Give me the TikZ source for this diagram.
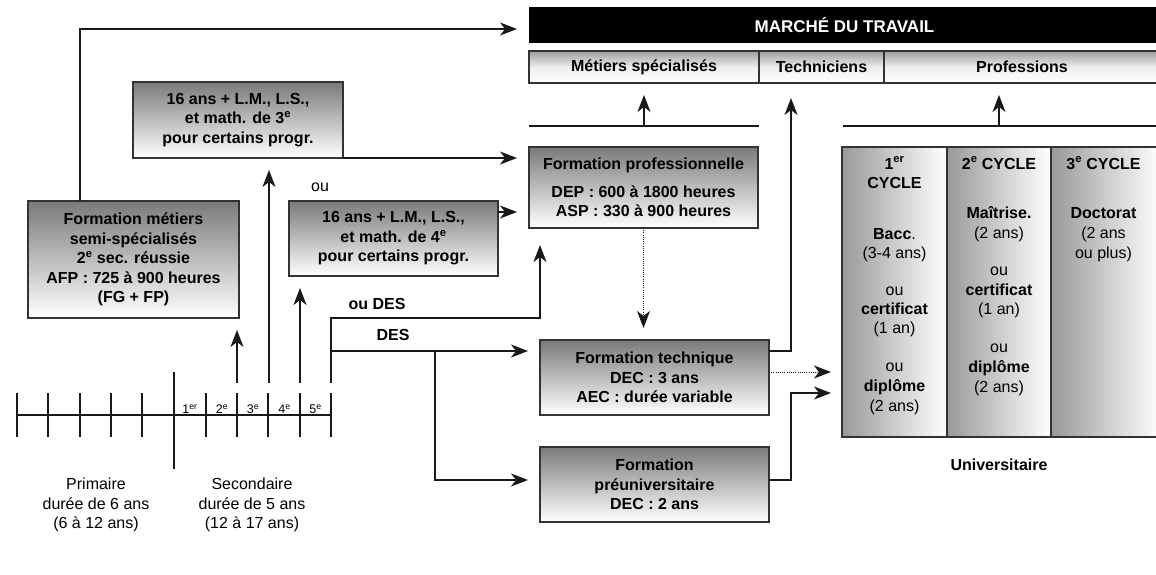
\documentclass[tikz,border=0pt]{standalone}
\usepackage{fontspec}
\setmainfont{Liberation Sans}
\usetikzlibrary{arrows.meta}
\newcommand\fsz{\fontsize{16}{19.5}\selectfont}
\newcommand\fsmall{\fontsize{12.5}{14}\selectfont}
\tikzset{
  every node/.style={inner sep=0pt, outer sep=0pt},
  ln/.style={line width=1.3pt, draw=black!90},
  arr/.style={ln, -{Stealth[length=17pt,width=13pt,inset=5pt]}},
  dotarr/.style={line width=1pt, draw=black!90, dash pattern=on 1pt off 1.2pt, -{Stealth[length=17pt,width=13pt,inset=5pt]}},
  bx/.style={rectangle, draw=black!80, line width=1.2pt, top color=black!52, bottom color=white, align=center, font=\bfseries\fsz},
  rowbox/.style={rectangle, draw=black!80, line width=1.2pt, top color=black!38, bottom color=white, middle color=white!93!black, font=\bfseries\fsz, anchor=north west, minimum height=32pt},
  ucol/.style={rectangle, draw=black!80, line width=1.2pt, left color=black!40, right color=white, anchor=north west, minimum height=290pt},
  lab/.style={font=\fsz, align=center},
  blab/.style={font=\bfseries\fsz, align=center},
  utxt/.style={font=\bfseries\fsz, anchor=base},
  tlab/.style={font=\fsmall},
}
\begin{document}
\begin{tikzpicture}[x=1pt,y=-1pt]
\fill[white] (0,0) rectangle (1156,574);
\useasboundingbox (0,0) rectangle (1156,574);

% header
\node[fill=black, anchor=north west, minimum width=631pt, minimum height=36pt, text=white, font=\bfseries\fontsize{17}{20}\selectfont] (marche) at (529,7) {MARCHÉ DU TRAVAIL};
\node[rowbox, minimum width=230pt] (metiers) at (529,51) {Métiers spécialisés};
\node[rowbox, minimum width=125pt] (techniciens) at (759,51) {Techniciens};
\node[rowbox, minimum width=276pt] (professions) at (884,51) {Professions};

% boxes
\node[bx, minimum width=210pt, minimum height=76pt] (boxA) at (238,120) {16 ans + L.M., L.S.,\\et math. de 3\textsuperscript{e}\\pour certains progr.};
\node[bx, minimum width=209pt, minimum height=75pt] (boxB) at (393.5,238.5) {16 ans + L.M., L.S.,\\et math. de 4\textsuperscript{e}\\pour certains progr.};
\node[bx, minimum width=211pt, minimum height=117pt] (boxC) at (133.5,259.5) {Formation métiers\\semi-spécialisés\\2\textsuperscript{e} sec. réussie\\AFP : 725 à 900 heures\\(FG + FP)};
\node[bx, minimum width=229pt, minimum height=81pt] (fpro) at (643.5,187.5) {Formation professionnelle\\[8pt]DEP : 600 à 1800 heures\\ASP : 330 à 900 heures};
\node[bx, minimum width=229pt, minimum height=75pt] (ftech) at (654.5,377.5) {Formation technique\\DEC : 3 ans\\AEC : durée variable};
\node[bx, minimum width=229pt, minimum height=75pt] (fpre) at (654.5,484.5) {Formation\\préuniversitaire\\DEC : 2 ans};

% university
\node[ucol, minimum width=105pt] (u1) at (842,147) {};
\node[ucol, minimum width=104pt] (u2) at (947,147) {};
\node[ucol, minimum width=110pt] (u3) at (1051,147) {};
\foreach \t/\y [count=\i] in {1\textsuperscript{er}/169, CYCLE/188.5, Bacc{\mdseries .}/239.5, {\mdseries (3-4 ans)}/258.5, {\mdseries ou}/295, certificat/314.5, {\mdseries (1 an)}/333.5, {\mdseries ou}/371.5, diplôme/391.5, {\mdseries (2 ans)}/411.5}
  \node[utxt] (ua\i) at (894.5,\y) {\t};
\foreach \t/\y [count=\i] in {2\textsuperscript{e} CYCLE/169, Maîtrise./218.5, {\mdseries (2 ans)}/238.5, {\mdseries ou}/275, certificat/295.5, {\mdseries (1 an)}/314.5, {\mdseries ou}/352, diplôme/372.5, {\mdseries (2 ans)}/392.5}
  \node[utxt] (ub\i) at (999,\y) {\t};
\foreach \t/\y [count=\i] in {3\textsuperscript{e} CYCLE/169, Doctorat/218.5, {\mdseries (2 ans}/238.5, {\mdseries ou plus)}/258}
  \node[utxt] (uc\i) at (1103.5,\y) {\t};
\node[blab] (univ) at (999,465) {Universitaire};

% lines under the market
\coordinate (hl1a) at (529,126); \coordinate (hl1b) at (759,126);
\coordinate (hl2a) at (843,126); \coordinate (hl2b) at (1160,126);
\draw[ln] (hl1a) -- (hl1b);
\draw[ln] (hl2a) -- (hl2b);
\coordinate (m1) at (644,126); \coordinate (m1t) at (644,95);
\coordinate (m2) at (999,126); \coordinate (m2t) at (999,95);
\draw[arr] (m1) -- (m1t);
\draw[arr] (m2) -- (m2t);

% timeline
\draw[ln] (17,415) -- (331,415);
\foreach \x in {17,48,80,111,142,206,237,268,300,331}
  \draw[ln] (\x,393) -- (\x,437);
\draw[ln] (174,372) -- (174,469);
\node[tlab] (g1) at (190,409) {1\textsuperscript{er}};
\node[tlab] (g2) at (222,409) {2\textsuperscript{e}};
\node[tlab] (g3) at (253,409) {3\textsuperscript{e}};
\node[tlab] (g4) at (284.5,409) {4\textsuperscript{e}};
\node[tlab] (g5) at (315.5,409) {5\textsuperscript{e}};
\node[lab] (prim) at (96,505) {Primaire\\durée de 6 ans\\(6 à 12 ans)};
\node[lab] (sec) at (252,505) {Secondaire\\durée de 5 ans\\(12 à 17 ans)};

% labels
\node[lab] (ou) at (320,187) {ou};
\node[blab] (oudes) at (377,304) {ou DES};
\node[blab] (des) at (393,335) {DES};

% connectors
\coordinate (x80) at (80,0);
\coordinate (tA) at (517,29);
\draw[arr] (boxC.north -| x80) |- (tA);
\coordinate (tB) at (517,158);
\draw[arr] (boxA.south east) -- (tB);
\coordinate (tC) at (517,212);
\draw[arr] ([yshift=26.5pt]boxB.east) -- (tC);

\coordinate (s2) at (237,383); \coordinate (s2t) at (237,330);
\coordinate (s3) at (269,383); \coordinate (s3t) at (269,170);
\coordinate (s4) at (300,383); \coordinate (s4t) at (300,288);
\coordinate (s5) at (331,383);
\draw[arr] (s2) -- (s2t);
\draw[arr] (s3) -- (s3t);
\draw[arr] (s4) -- (s4t);
\coordinate (od) at (540,318); \coordinate (odt) at (540,245);
\draw[arr] (s5) |- (od) -- (odt);
\coordinate (d0) at (331,351); \coordinate (dt) at (528,351);
\draw[arr] (d0) -- (dt);
\coordinate (b0) at (435,351); \coordinate (bt) at (528,480);
\draw[arr] (b0) |- (bt);

\coordinate (dpt) at (643.5,328);
\draw[dotarr] (fpro.south) -- (dpt);
\coordinate (tt) at (791,98);
\draw[arr] ([yshift=26.5pt]ftech.east) -| (tt);
\coordinate (dut) at (831,372);
\draw[dotarr] ([yshift=5.5pt]ftech.east) -- (dut);
\coordinate (pv) at (791,393); \coordinate (put) at (831,393);
\draw[arr] ([yshift=4.5pt]fpre.east) -| (pv) -- (put);
\end{tikzpicture}
\end{document}
